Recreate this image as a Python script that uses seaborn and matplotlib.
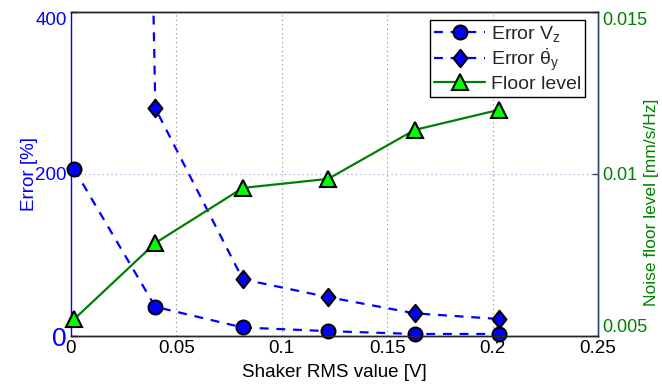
import matplotlib
matplotlib.use("Agg")
import matplotlib.pyplot as plt
from matplotlib.path import Path
import seaborn as sns
import pandas as pd

# Data
shaker_rms = [0.0015, 0.040, 0.0815, 0.122, 0.163, 0.203]
error_vz = [206, 36, 10.5, 6, 2.5, 2.5]
error_theta = [5500, 281, 70, 48, 28, 21]
floor_level = [0.00552, 0.00787, 0.00957, 0.00985, 0.01136, 0.01198]

x_ticks = [0, 0.05, 0.1, 0.15, 0.2, 0.25]
x_ticklabels = ["0", "0.05", "0.1", "0.15", "0.2", "0.25"]
left_ticks = [0, 200, 400]
left_ticklabels = ["0", "200", "400"]
right_ticks = [0.005, 0.01, 0.015]
right_ticklabels = ["0.005", "0.01", "0.015"]

sns.set_theme(style="white")
plt.rcParams['font.family'] = ['Liberation Sans', 'DejaVu Sans']
plt.rcParams['mathtext.fontset'] = 'custom'
plt.rcParams['mathtext.rm'] = 'Liberation Sans'
plt.rcParams['mathtext.it'] = 'Liberation Sans'

BLUE = "#0000FF"
GREEN = "#008000"
SPINE_R = "#2F4F6F"

df = pd.DataFrame({"x": shaker_rms, "vz": error_vz, "th": error_theta, "fl": floor_level})

diamond = Path([(0, 1), (0.8, 0), (0, -1), (-0.8, 0), (0, 1)],
               [Path.MOVETO, Path.LINETO, Path.LINETO, Path.LINETO, Path.CLOSEPOLY])

fig = plt.figure(figsize=(6.62, 3.88), dpi=100)
ax = fig.add_axes([71/662, 1-336/388, (598-71)/662, (336-12)/388])
ax2 = ax.twinx()

sns.lineplot(data=df, x="x", y="vz", ax=ax, color=BLUE, marker="o", markersize=10,
             markeredgecolor="black", markeredgewidth=1.5, linewidth=1.6,
             clip_on=False, label="Error V$_z$", legend=False, zorder=5)
ax.lines[-1].set_dashes((4, 3.5))
sns.lineplot(data=df, x="x", y="th", ax=ax, color=BLUE, marker=diamond, markersize=12.5,
             markeredgecolor="black", markeredgewidth=1.5, linewidth=1.6,
             label=r"Error $\dot{\theta}_y$", legend=False, zorder=5)
ax.lines[-1].set_dashes((4, 3.5))
sns.lineplot(data=df, x="x", y="fl", ax=ax2, color=GREEN, marker="^", markersize=11,
             markerfacecolor="#00FF00", markeredgecolor="black", markeredgewidth=1.5,
             linewidth=1.6, clip_on=False, label="Floor level", legend=False, zorder=5)

ax.set_xlim(0, 0.25)
ax.set_ylim(0, 400)
ax2.set_ylim(0.005, 0.015)

ax.set_xticks(x_ticks)
ax.set_xticklabels(x_ticklabels, fontsize=13.5)
ax.set_yticks(left_ticks)
ax.set_yticklabels(left_ticklabels, fontsize=13.5, color=BLUE)
ylabs = ax.get_yticklabels()
ylabs[0].set_fontsize(19)
ylabs[2].set_verticalalignment("top")
ax2.set_yticks(right_ticks)
ax2.set_yticklabels(right_ticklabels, fontsize=13, color=GREEN)
rlabs = ax2.get_yticklabels()
rlabs[0].set_verticalalignment("bottom")
rlabs[2].set_verticalalignment("top")

ax.tick_params(axis="both", direction="in", length=4, width=1, pad=3)
ax.tick_params(axis="y", colors=BLUE, labelcolor=BLUE)
ax.tick_params(axis="x", colors="black")
ax2.tick_params(axis="y", direction="in", length=4, width=1, colors=SPINE_R, labelcolor=GREEN, pad=3)

for x in x_ticks[1:-1]:
    ax.axvline(x, color="#888888", linestyle=(0, (1, 3)), linewidth=0.8, zorder=0)
ax.axhline(200, color="#9999DD", linestyle=(0, (1, 3)), linewidth=0.8, zorder=0)

for s in ["top", "bottom"]:
    ax.spines[s].set_color("black")
ax.spines["left"].set_color(BLUE)
ax2.spines["right"].set_color(SPINE_R)
ax2.spines["left"].set_visible(False)
for sp in list(ax.spines.values()) + list(ax2.spines.values()):
    sp.set_linewidth(1.0)

ax.set_xlabel("Shaker RMS value [V]", fontsize=13.5, color="black", labelpad=5)
ax.set_ylabel("Error [%]", fontsize=13.5, color=BLUE, labelpad=-2)
ax2.set_ylabel("Noise floor level [mm/s/Hz]", fontsize=12.5, color=GREEN)
ax2.yaxis.set_label_coords(1.088, 0.414)

h1, lab1 = ax.get_legend_handles_labels()
h2, lab2 = ax2.get_legend_handles_labels()
leg = ax2.legend(h1 + h2, lab1 + lab2, loc="upper right", bbox_to_anchor=(0.975, 0.975),
                 fontsize=14, frameon=True, fancybox=False, edgecolor="black",
                 framealpha=1, borderpad=0.2, labelspacing=0.12, handlelength=2.6,
                 handletextpad=0.3, borderaxespad=0)
leg.get_frame().set_linewidth(1.0)

fig.savefig("out.png", dpi=100)
